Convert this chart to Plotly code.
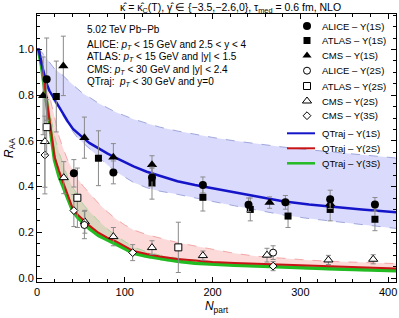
import plotly.graph_objects as go

# ---------------- data ----------------
# experimental points
alice1s_x = [11, 42, 87, 131, 189, 241, 283, 334, 385]
alice1s_y = [0.87, 0.458, 0.462, 0.44, 0.407, 0.32, 0.331, 0.344, 0.322]
alice1s_e = [0.18, 0.06, 0.05, 0.04, 0.035, 0.03, 0.03, 0.04, 0.03]

atlas1s_x = [22, 70, 131, 189, 243, 286, 334, 385]
atlas1s_y = [0.794, 0.524, 0.415, 0.353, 0.30, 0.271, 0.30, 0.257]
atlas1s_e = [0.155, 0.12, 0.07, 0.06, 0.05, 0.05, 0.05, 0.05]

cms1s_x = [7, 30, 54, 87, 131, 265, 334]
cms1s_y = [0.797, 0.928, 0.614, 0.528, 0.495, 0.33, 0.325]
cms1s_e = [0.17, 0.13, 0.09, 0.06, 0.04, 0.025, 0.03]

alice2s_x = [54, 269]
alice2s_y = [0.232, 0.111]
alice2s_e = [0.06, 0.03]

atlas2s_x = [11, 46, 161]
atlas2s_y = [0.66, 0.351, 0.134]
atlas2s_e = [0.12, 0.13, 0.11]

cms2s_x = [9, 30.5, 54.5, 87, 131, 189, 262, 332, 383]
cms2s_y = [0.597, 0.439, 0.246, 0.181, 0.133, 0.098, 0.10, 0.079, 0.082]
cms2s_e = [0.2, 0.07, 0.05, 0.04, 0.03, 0.02, 0.03, 0.02, 0.02]

cms3s_x = [9, 42, 109, 269]
cms3s_y = [0.538, 0.295, 0.111, 0.052]
cms3s_e = [0.17, 0.07, 0.035, 0.02]

# QTraj curves
npart = [0, 2, 5, 8, 11, 14, 17, 20, 25, 30, 35, 41, 47, 53, 60, 70, 80, 90, 100,
         110, 125, 140, 160, 180, 200, 225, 250, 280, 310, 340, 370, 409]
qt1s = [1.0, 1.0, 0.94, 0.89, 0.85, 0.82, 0.80, 0.78, 0.75, 0.715, 0.685, 0.652, 0.63,
        0.612, 0.59, 0.567, 0.545, 0.525, 0.505, 0.488, 0.465, 0.448, 0.423, 0.407,
        0.393, 0.374, 0.356, 0.336, 0.322, 0.31, 0.30, 0.288]
qt1s_hi = [1.0, 1.0, 0.99, 0.975, 0.96, 0.945, 0.93, 0.915, 0.9, 0.885, 0.865, 0.845,
           0.825, 0.805, 0.79, 0.765, 0.745, 0.725, 0.71, 0.695, 0.677, 0.66, 0.643, 0.628,
           0.615, 0.6, 0.587, 0.573, 0.561, 0.549, 0.539, 0.525]
qt1s_lo = [1.0, 1.0, 0.935, 0.885, 0.845, 0.815, 0.79, 0.77, 0.74, 0.705, 0.675, 0.64,
           0.61, 0.59, 0.565, 0.53, 0.495, 0.465, 0.44, 0.418, 0.395, 0.38, 0.366,
           0.352, 0.335, 0.316, 0.298, 0.276, 0.26, 0.246, 0.232, 0.217]
qt2s = [1.0, 1.0, 0.95, 0.87, 0.78, 0.70, 0.61, 0.53, 0.47, 0.415, 0.36, 0.30, 0.275,
        0.252, 0.228, 0.198, 0.177, 0.16, 0.14, 0.118, 0.105, 0.094, 0.083, 0.075,
        0.07, 0.066, 0.063, 0.058, 0.053, 0.049, 0.046, 0.042]
qt2s_hi = [1.0, 1.0, 0.95, 0.9, 0.84, 0.79, 0.74, 0.69, 0.62, 0.565, 0.515, 0.47, 0.43,
           0.40, 0.37, 0.327, 0.29, 0.258, 0.232, 0.21, 0.19, 0.175, 0.155, 0.14,
           0.125, 0.108, 0.095, 0.085, 0.078, 0.072, 0.068, 0.063]
qt2s_lo = [1.0, 0.99, 0.93, 0.85, 0.76, 0.68, 0.59, 0.515, 0.445, 0.395, 0.345, 0.29,
           0.262, 0.24, 0.215, 0.186, 0.165, 0.148, 0.128, 0.108, 0.095, 0.084, 0.073,
           0.065, 0.06, 0.056, 0.052, 0.047, 0.043, 0.039, 0.036, 0.032]
qt3s = [1.0, 0.99, 0.93, 0.85, 0.76, 0.68, 0.59, 0.515, 0.445, 0.395, 0.345, 0.29,
        0.262, 0.24, 0.215, 0.186, 0.165, 0.148, 0.128, 0.108, 0.095, 0.084, 0.073,
        0.065, 0.06, 0.056, 0.052, 0.047, 0.043, 0.039, 0.036, 0.032]
qt3s_hi = [1.0, 1.0, 0.94, 0.88, 0.81, 0.75, 0.68, 0.62, 0.55, 0.49, 0.44, 0.395, 0.355,
           0.32, 0.29, 0.25, 0.215, 0.185, 0.16, 0.135, 0.115, 0.10, 0.087, 0.078,
           0.071, 0.066, 0.062, 0.057, 0.053, 0.049, 0.046, 0.042]
qt3s_lo = [1.0, 0.985, 0.92, 0.84, 0.75, 0.67, 0.58, 0.505, 0.435, 0.385, 0.335, 0.282,
           0.255, 0.233, 0.208, 0.18, 0.159, 0.142, 0.122, 0.103, 0.09, 0.079, 0.068,
           0.061, 0.056, 0.052, 0.048, 0.043, 0.039, 0.035, 0.032, 0.028]

FONT = "Arial, Liberation Sans, sans-serif"
W, H = 399, 318
ML, MR, MT, MB = 37, 3, 14, 36
PW, PH = W - ML - MR, H - MT - MB


def px2paper(px, py):
    return (px - ML) / PW, (H - MB - py) / PH


fig = go.Figure()


def band(lo, hi, fillcol, edgecol):
    fig.add_trace(go.Scatter(x=npart, y=lo, mode="lines", showlegend=False,
                             line=dict(color=edgecol, width=1, dash="dash"),
                             hoverinfo="skip"))
    fig.add_trace(go.Scatter(x=npart, y=hi, mode="lines", showlegend=False,
                             fill="tonexty", fillcolor=fillcol,
                             line=dict(color=edgecol, width=1, dash="dash"),
                             hoverinfo="skip"))


band(qt1s_lo, qt1s_hi, "rgba(80,80,240,0.21)", "rgba(140,150,210,0.8)")
band(qt2s_lo, qt2s_hi, "rgba(240,80,80,0.21)", "rgba(240,150,150,0.8)")
band(qt3s_lo, qt3s_hi, "rgba(60,190,60,0.17)", "rgba(140,210,140,0.7)")

C3, C2, C1 = "#22bb22", "#c81414", "#1414c8"
fig.add_trace(go.Scatter(x=npart, y=qt3s, mode="lines", showlegend=False,
                         line=dict(color=C3, width=3.5)))
fig.add_trace(go.Scatter(x=npart, y=qt2s, mode="lines", showlegend=False,
                         line=dict(color=C2, width=2)))
fig.add_trace(go.Scatter(x=npart, y=qt1s, mode="lines", showlegend=False,
                         line=dict(color=C1, width=2.5)))

# legend entries (drawn manually on an overlay paper-like axis)
leg_entries = [
    ("ALICE – Υ(1S)", "circle", 8, True),
    ("ATLAS – Υ(1S)", "square", 7, True),
    ("CMS – Υ(1S)", "triangle-up", 8, True),
    ("ALICE – Υ(2S)", "circle", 7, False),
    ("ATLAS – Υ(2S)", "square", 7, False),
    ("CMS – Υ(2S)", "triangle-up", 8, False),
    ("CMS – Υ(3S)", "diamond", 6, False),
]
leg_lines = [("QTraj – Υ(1S)", C1, 2), ("QTraj – Υ(2S)", C2, 2), ("QTraj – Υ(3S)", C3, 2.5)]
leg_rows = [26, 40.5, 55.5, 70.7, 86, 101, 115.7, 133.3, 148.3, 163.3]


def pts(x, y, e, symbol, size, filled):
    fig.add_trace(go.Scatter(
        x=x, y=y, mode="markers", showlegend=False,
        error_y=dict(type="data", array=e, color="#8a8a8a", thickness=1, width=2.5),
        marker=dict(symbol=symbol, size=size,
                    color="black" if filled else "white",
                    line=dict(color="black", width=0 if filled else 1))))


pts(cms3s_x, cms3s_y, cms3s_e, "diamond", 6, False)
pts(cms2s_x, cms2s_y, cms2s_e, "triangle-up", 8, False)
pts(atlas2s_x, atlas2s_y, atlas2s_e, "square", 7, False)
pts(alice2s_x, alice2s_y, alice2s_e, "circle", 7, False)
pts(cms1s_x, cms1s_y, cms1s_e, "triangle-up", 9, True)
pts(atlas1s_x, atlas1s_y, atlas1s_e, "square", 7, True)
pts(alice1s_x, alice1s_y, alice1s_e, "circle", 8, True)

for (name, sym, size, filled), row in zip(leg_entries, leg_rows[:7]):
    mx, my = px2paper(307, row)
    fig.add_trace(go.Scatter(x=[mx], y=[my], xaxis="x2", yaxis="y2", mode="markers",
                             showlegend=False, hoverinfo="skip",
                             marker=dict(symbol=sym, size=size,
                                         color="black" if filled else "white",
                                         line=dict(color="black", width=0 if filled else 1))))
for (name, col, lw), row in zip(leg_lines, leg_rows[7:]):
    x0, yy = px2paper(287, row)
    x1, _ = px2paper(315, row)
    fig.add_trace(go.Scatter(x=[x0, x1], y=[yy, yy], xaxis="x2", yaxis="y2", mode="lines",
                             showlegend=False, hoverinfo="skip",
                             line=dict(color=col, width=lw)))
for name, row in zip([e[0] for e in leg_entries] + [l[0] for l in leg_lines], leg_rows):
    tx, ty = px2paper(320, row)
    fig.add_annotation(x=tx, y=ty, xref="paper", yref="paper", text=name,
                       showarrow=False, xanchor="left", yanchor="middle",
                       font=dict(size=9.5, color="black", family=FONT))

# text block
lines = ["5.02 TeV Pb−Pb",
         "ALICE: <i>p<sub>T</sub></i> < 15 GeV and 2.5 < y < 4",
         "ATLAS: <i>p<sub>T</sub></i> < 15 GeV and |y| < 1.5",
         "CMS: <i>p<sub>T</sub></i> < 30 GeV and |y| < 2.4",
         "QTraj:  <i>p<sub>T</sub></i> < 30 GeV and y=0"]
ypix = [30, 44.5, 57, 69.5, 82]
for t, yp in zip(lines, ypix):
    ax, ay = px2paper(85, yp)
    fig.add_annotation(x=ax, y=ay, xref="paper", yref="paper",
                       text=t, showarrow=False, xanchor="left", yanchor="middle",
                       font=dict(size=10, color="black", family=FONT))

tx, ty = px2paper(230, 8)
fig.add_annotation(x=tx, y=ty, xref="paper", yref="paper",
                   text="κ̂ = κ̂<sub>C</sub>(T), γ̂ ∈ {−3.5,−2.6,0}, τ<sub>med</sub> = 0.6 fm, NLO",
                   showarrow=False, xanchor="center", yanchor="middle", borderpad=0,
                   font=dict(size=10.5, color="black", family=FONT))

axis_common = dict(showline=True, linecolor="black", linewidth=1, mirror="allticks",
                   ticks="inside", ticklen=5, tickcolor="black", showgrid=False,
                   zeroline=False, automargin=False,
                   tickfont=dict(size=11, color="black", family=FONT))
fig.update_layout(
    xaxis=dict(range=[0, 409], tickvals=[0, 100, 200, 300, 400],
               minor=dict(dtick=20, ticks="inside", ticklen=3, tickcolor="black", showgrid=False),
               title=dict(text="<i>N</i><sub>part</sub>", standoff=4,
                          font=dict(size=12, color="black", family=FONT)),
               **axis_common),
    yaxis=dict(range=[-0.0175, 1.155], tickvals=[0, 0.2, 0.4, 0.6, 0.8, 1.0],
               tickformat=".1f",
               minor=dict(dtick=0.05, ticks="inside", ticklen=3, tickcolor="black", showgrid=False),
               title=dict(text="<i>R</i><sub>AA</sub>", standoff=2,
                          font=dict(size=12, color="black", family=FONT)),
               **axis_common),
    xaxis2=dict(overlaying="x", range=[0, 1], visible=False, fixedrange=True),
    yaxis2=dict(overlaying="y", range=[0, 1], visible=False, fixedrange=True),
    width=W, height=H,
    margin=dict(l=ML, r=MR, t=MT, b=MB),
    paper_bgcolor="white", plot_bgcolor="white",
    font=dict(family=FONT, color="black"),
    showlegend=False,
)

fig.write_html("out.html", config={"displayModeBar": False},
               post_script="document.body.style.margin='0';document.body.style.padding='0';")
